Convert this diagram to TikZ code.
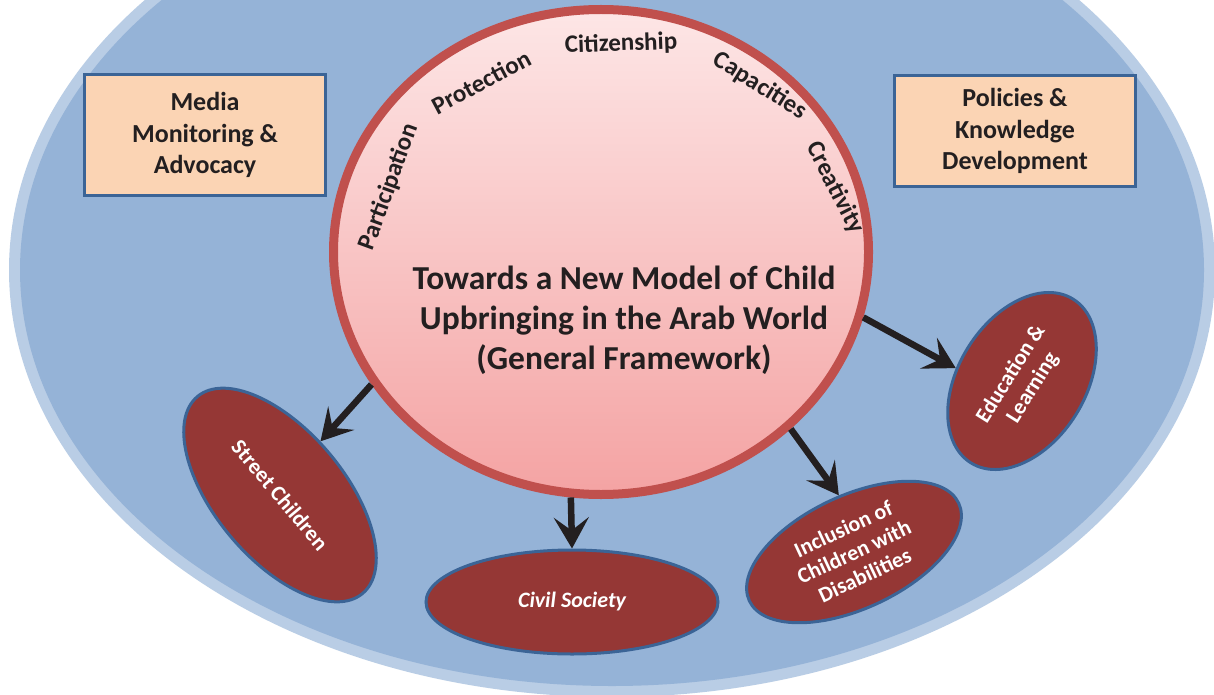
\documentclass[tikz,border=0pt]{standalone}
\usepackage{fontspec}
\setmainfont{Carlito}
\usepackage{xcolor}
\usetikzlibrary{shapes.geometric}
\usetikzlibrary{arrows.meta}
\definecolor{bgblue}{HTML}{95B3D7}
\definecolor{bgrim}{HTML}{B9CDE5}
\definecolor{rimred}{HTML}{C0504D}
\definecolor{pinktop}{HTML}{FDE6E6}
\definecolor{pinkbot}{HTML}{F4A3A3}
\definecolor{peach}{HTML}{FBD4B4}
\definecolor{boxblue}{HTML}{3B6496}
\definecolor{wine}{HTML}{953735}
\definecolor{ink}{HTML}{231F20}
\tikzset{
  infobox/.style = {draw=boxblue, line width=3pt, fill=peach, text=ink,
    minimum width=241pt, minimum height=118pt, align=center,
    font=\fontsize{26}{31.5}\selectfont\bfseries},
  topic/.style = {ellipse, draw=boxblue, line width=3pt, fill=wine, inner sep=0pt,
    text=white, align=center, font=\fontsize{22}{25.5}\selectfont\bfseries},
  arcword/.style = {text=ink, font=\fontsize{25}{30}\selectfont\bfseries},
  arr/.style = {draw=ink, line width=6.5pt,
    -{Stealth[length=31pt, width=35pt, inset=13pt]}}
}

\begin{document}
\begin{tikzpicture}[x=1pt,y=-1pt]
  \useasboundingbox (0,0) rectangle (1214,695);
  \fill[white] (0,0) rectangle (1214,695);
  \clip (0,0) rectangle (1214,695);
  %%% background
  \fill[bgrim] (612,270) ellipse [x radius=603, y radius=427];
  \fill[bgblue] (612,270) ellipse [x radius=592, y radius=416];
  %%% side boxes
  \node[infobox, minimum height=121pt] (media) at (205,135) {Media\\Monitoring \&\\Advocacy};
  \node[infobox, minimum height=111pt] (policy) at (1015,131) {Policies \&\\Knowledge\\Development};
  %%% central circle
  \node[ellipse, draw=rimred, line width=9pt, top color=pinktop, bottom color=pinkbot,
    minimum width=535pt, minimum height=485pt] (core) at (601,252) {};
  \node[text=ink, align=center, font=\fontsize{33.5}{40}\selectfont\bfseries]
    (title) at (624,320) {Towards a New Model of Child\\Upbringing in the Arab World\\(General Framework)};
  %%% words round the top
  \node[arcword, rotate=70] (particip) at (389,187) {Participation};
  \node[arcword, rotate=28] (protect) at (481,82) {Protection};
  \node[arcword, rotate=2] (citizen) at (621,44) {Citizenship};
  \node[arcword, rotate=-32] (capac) at (760,86) {Capacities};
  \node[arcword, rotate=-63] (creat) at (835,188) {Creativity};
  %%% topics
  \node[topic, rotate=-50, minimum width=257pt, minimum height=129pt] (street) at (280,495) {Street Children};
  \node[topic, minimum width=292pt, minimum height=104pt, font=\fontsize{22}{25.5}\selectfont\bfseries\itshape] (civil) at (572,602) {Civil Society};
  \node[topic, rotate=25, minimum width=231pt, minimum height=113pt] (incl) at (854,552) {Inclusion of\\Children with\\Disabilities};
  \node[topic, rotate=58, minimum width=193pt, minimum height=127pt] (edu) at (1022,381) {Education \&\\Learning};
  %
  \draw[arr] (core.210) -- (street.103);
  \draw[arr] (core.263) -- (civil.north);
  \draw[arr] (core.317) -- (incl.80);
  \draw[arr] (core.346) -- (edu.111);
\end{tikzpicture}
\end{document}
